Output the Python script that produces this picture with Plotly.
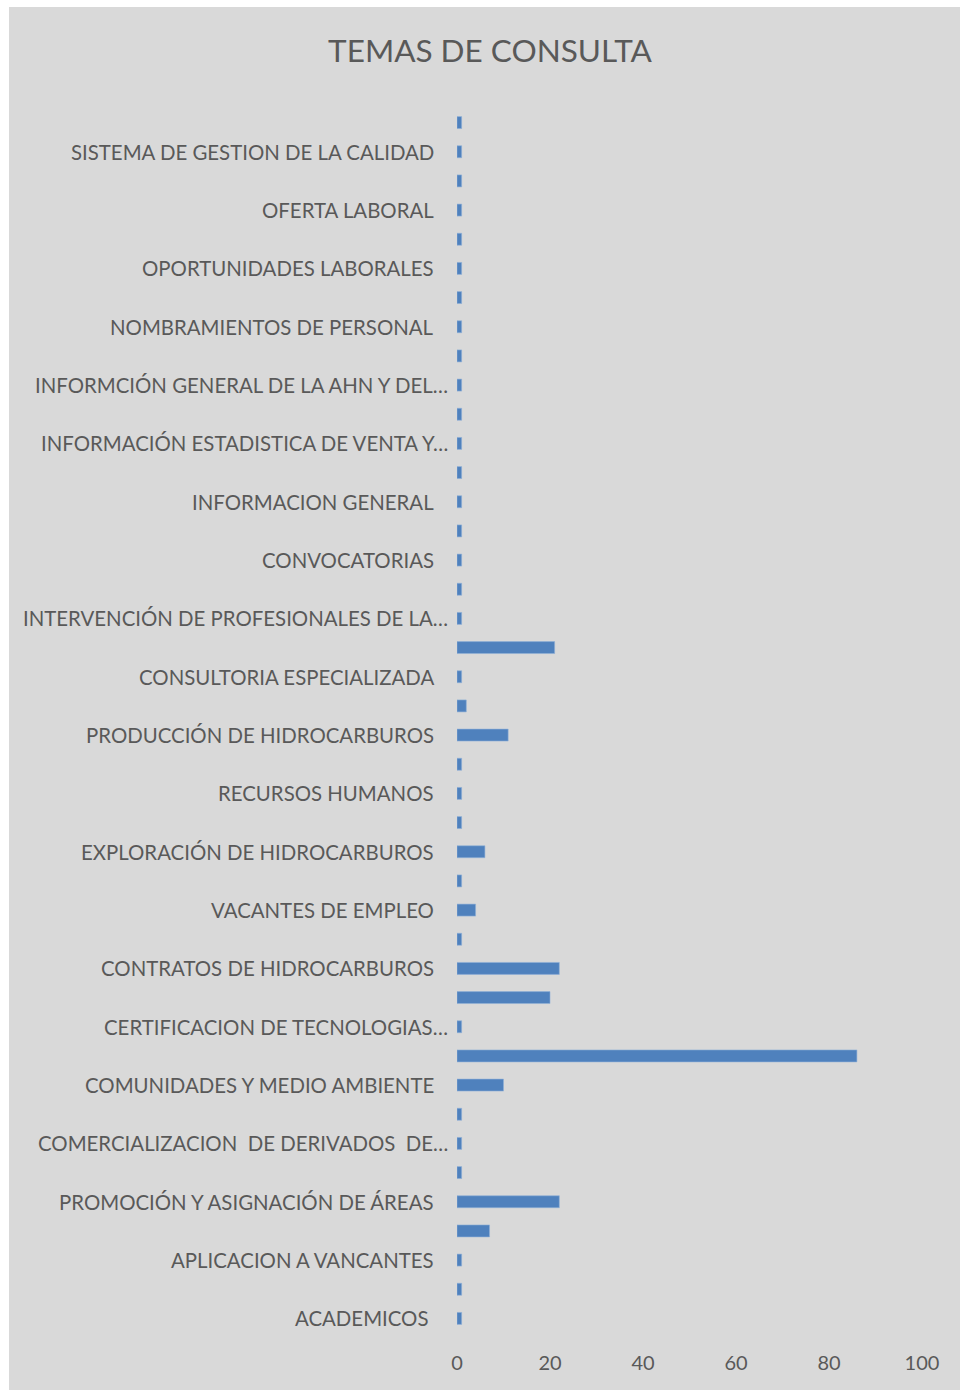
import plotly.graph_objects as go

# Consultation topics, bottom to top; every other row carries a visible label
label_rows = list(range(0, 41, 2))
topic_labels = [
    "ACADEMICOS\u00a0",
    "APLICACION A VANCANTES",
    "PROMOCIÓN Y ASIGNACIÓN DE ÁREAS",
    "COMERCIALIZACION\u00a0 DE DERIVADOS\u00a0 DE…",
    "COMUNIDADES Y MEDIO AMBIENTE",
    "CERTIFICACION DE TECNOLOGIAS…",
    "CONTRATOS DE HIDROCARBUROS",
    "VACANTES DE EMPLEO",
    "EXPLORACIÓN DE HIDROCARBUROS",
    "RECURSOS HUMANOS",
    "PRODUCCIÓN DE HIDROCARBUROS",
    "CONSULTORIA ESPECIALIZADA",
    "INTERVENCIÓN DE PROFESIONALES DE LA…",
    "CONVOCATORIAS",
    "INFORMACION GENERAL",
    "INFORMACIÓN ESTADISTICA DE VENTA Y…",
    "INFORMCIÓN GENERAL DE LA AHN Y DEL…",
    "NOMBRAMIENTOS DE PERSONAL",
    "OPORTUNIDADES LABORALES",
    "OFERTA LABORAL",
    "SISTEMA DE GESTION DE LA CALIDAD",
]

# Number of consultations per row (row 0 = bottom)
consultas = [
    1, 1, 1, 7, 22, 1, 1, 1, 10, 86,
    1, 20, 22, 1, 4, 1, 6, 1, 1, 1,
    11, 2, 1, 21, 1, 1, 1, 1, 1, 1,
    1, 1, 1, 1, 1, 1, 1, 1, 1, 1,
    1, 1,
]
rows = list(range(len(consultas)))

x_ticks = [0, 20, 40, 60, 80, 100]

W, H = 960, 1390
ML, MR, MT, MB = 457, 38, 108, 57
PW, PH = W - ML - MR, H - MT - MB

FONT = "Lato, Calibri, sans-serif"
TXT = "#595959"
BG = "#d9d9d9"
LABEL_SIZE = 20.4

fig = go.Figure(
    go.Bar(
        x=consultas,
        y=rows,
        orientation="h",
        width=0.41,
        marker=dict(color="#4f81bd", line=dict(color="#8fb0d8", width=0.6)),
        hoverinfo="x",
    )
)

# Grey chart panel with a thin white frame on the left and top
fig.add_shape(
    type="rect", xref="paper", yref="paper", layer="below",
    x0=(9 - ML) / PW, x1=(W - ML) / PW,
    y0=(MT + PH - H) / PH, y1=(MT + PH - 7) / PH,
    fillcolor=BG, line=dict(width=0),
)

# Category labels; shortened labels let their ellipsis run past the label column
for row, label in zip(label_rows, topic_labels):
    right_px = 450 if label.endswith("…") else 436
    fig.add_annotation(
        x=(right_px - ML) / PW, xref="paper", xanchor="right",
        y=row, yref="y", yanchor="middle",
        text=label, showarrow=False,
        font=dict(family=FONT, size=LABEL_SIZE, color=TXT),
    )

fig.update_layout(
    width=W, height=H,
    margin=dict(l=ML, r=MR, t=MT, b=MB, pad=0),
    paper_bgcolor="white",
    plot_bgcolor=BG,
    showlegend=False,
    font=dict(family=FONT, color=TXT, size=20),
    title=dict(
        text="TEMAS DE CONSULTA",
        x=490 / W, y=1 - 51 / H, xanchor="center", yanchor="middle",
        font=dict(family=FONT, size=31.5, color=TXT),
    ),
    xaxis=dict(
        range=[0, 100], tickvals=x_ticks, showgrid=False, zeroline=False,
        showline=False, ticks="", ticklabelstandoff=16,
        tickfont=dict(size=20, color=TXT),
    ),
    yaxis=dict(
        range=[-0.5, len(consultas) - 0.5], showgrid=False, zeroline=False,
        showline=False, ticks="", showticklabels=False,
    ),
)

fig.write_html("out.html")
